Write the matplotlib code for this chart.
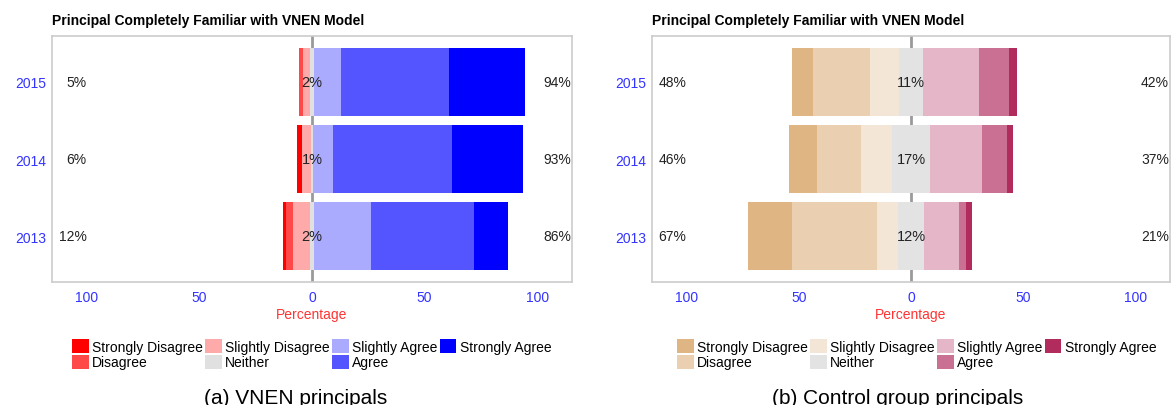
import matplotlib.pyplot as plt
from matplotlib.patches import Patch

plt.rcParams['font.family'] = ['Liberation Sans', 'DejaVu Sans']

years = ['2013', '2014', '2015']
categories = ['Strongly Disagree', 'Disagree', 'Slightly Disagree', 'Neither',
              'Slightly Agree', 'Agree', 'Strongly Agree']

# (a) VNEN principals, percent per response, rows = years
vnen_strongly_disagree = [1.2, 2.0, 0.0]
vnen_disagree = [3.3, 0.0, 1.6]
vnen_slightly_disagree = [7.4, 4.0, 3.2]
vnen_neither = [2.0, 1.0, 2.0]
vnen_slightly_agree = [25.0, 9.0, 11.8]
vnen_agree = [45.9, 52.8, 47.8]
vnen_strongly_agree = [15.2, 31.5, 33.9]
vnen_low_labels = ['12%', '6%', '5%']
vnen_mid_labels = ['2%', '1%', '2%']
vnen_high_labels = ['86%', '93%', '94%']

# (b) control group principals
ctrl_strongly_disagree = [20.0, 12.5, 9.3]
ctrl_disagree = [37.5, 19.4, 25.1]
ctrl_slightly_disagree = [9.3, 13.8, 12.9]
ctrl_neither = [12.0, 17.0, 11.0]
ctrl_slightly_agree = [15.4, 23.0, 24.7]
ctrl_agree = [3.1, 11.3, 13.4]
ctrl_strongly_agree = [2.8, 2.5, 3.7]
ctrl_low_labels = ['67%', '46%', '48%']
ctrl_mid_labels = ['12%', '17%', '11%']
ctrl_high_labels = ['21%', '37%', '42%']

vnen_colors = ['#FF0000', '#FF4848', '#FFAAAA', '#E0E0E0', '#AAAAFF', '#5555FF', '#0000FF']
ctrl_colors = ['#DFB583', '#EACFB0', '#F4E6D7', '#E3E3E3', '#E4B6C8', '#C97093', '#B22B5D']

W, H = 1172, 406
fig = plt.figure(figsize=(W / 100, H / 100), dpi=100)


def likert(ax, sd, d, sld, nt, sla, a, sa, low, mid, high, colors):
    ypos = [1, 2, 3]
    h = 0.885
    ax.axvline(0, color='#9A9A9A', lw=2, zorder=0.5)
    for i, y in enumerate(ypos):
        half = nt[i] / 2
        # negative side, built outward from the neither block
        left = -half
        for val, c in [(sld[i], colors[2]), (d[i], colors[1]), (sd[i], colors[0])]:
            ax.barh(y, val, left=left - val, height=h, color=c, lw=0, zorder=1)
            left -= val
        ax.barh(y, nt[i], left=-half, height=h, color=colors[3], lw=0, zorder=1)
        right = half
        for val, c in [(sla[i], colors[4]), (a[i], colors[5]), (sa[i], colors[6])]:
            ax.barh(y, val, left=right, height=h, color=c, lw=0, zorder=1)
            right += val
        ax.text(-100, y, low[i], ha='right', va='center', fontsize=10, color='#222222')
        ax.text(0, y, mid[i], ha='center', va='center', fontsize=10.5, color='#222222', zorder=3)
        ax.text(115, y, high[i], ha='right', va='center', fontsize=10, color='#222222')

    ax.set_xlim(-115.4, 115.4)
    ax.set_ylim(0.405, 3.595)
    ax.set_yticks(ypos)
    ax.set_yticklabels(years)
    ax.set_xticks([-100, -50, 0, 50, 100])
    ax.set_xticklabels(['100', '50', '0', '50', '100'])
    ax.tick_params(length=0, labelcolor='#3333FF', labelsize=10)
    ax.tick_params(axis='x', pad=6)
    ax.tick_params(axis='y', pad=4)
    ax.set_xlabel('Percentage', color='#FF3333', fontsize=10, labelpad=2)
    for s in ax.spines.values():
        s.set_color('#CCCCCC')
        s.set_linewidth(1.2)
    ax.set_title('Principal Completely Familiar with VNEN Model', loc='left',
                 fontsize=10, fontweight='bold', pad=9)


ax1 = fig.add_axes([52 / W, 1 - 283 / H, 520 / W, 246 / H])
likert(ax1, vnen_strongly_disagree, vnen_disagree, vnen_slightly_disagree, vnen_neither,
       vnen_slightly_agree, vnen_agree, vnen_strongly_agree,
       vnen_low_labels, vnen_mid_labels, vnen_high_labels, vnen_colors)

ax2 = fig.add_axes([652 / W, 1 - 283 / H, 518 / W, 246 / H])
likert(ax2, ctrl_strongly_disagree, ctrl_disagree, ctrl_slightly_disagree, ctrl_neither,
       ctrl_slightly_agree, ctrl_agree, ctrl_strongly_agree,
       ctrl_low_labels, ctrl_mid_labels, ctrl_high_labels, ctrl_colors)

for x0, colors in [(72, vnen_colors), (677, ctrl_colors)]:
    handles = [Patch(facecolor=c, edgecolor='none') for c in colors]
    fig.legend(handles, categories, ncol=4, loc='upper left',
               bbox_to_anchor=(x0 / W, 1 - 340 / H), frameon=False, fontsize=10,
               handlelength=1.2, handleheight=1.2, handletextpad=0.25,
               columnspacing=0.15, labelspacing=0.05, borderpad=0, borderaxespad=0)

fig.text(296 / W, 2 / H, '(a) VNEN principals', ha='center', va='baseline', fontsize=15)
fig.text(898 / W, 2 / H, '(b) Control group principals', ha='center', va='baseline', fontsize=15)

fig.savefig('out.png', dpi=100)
